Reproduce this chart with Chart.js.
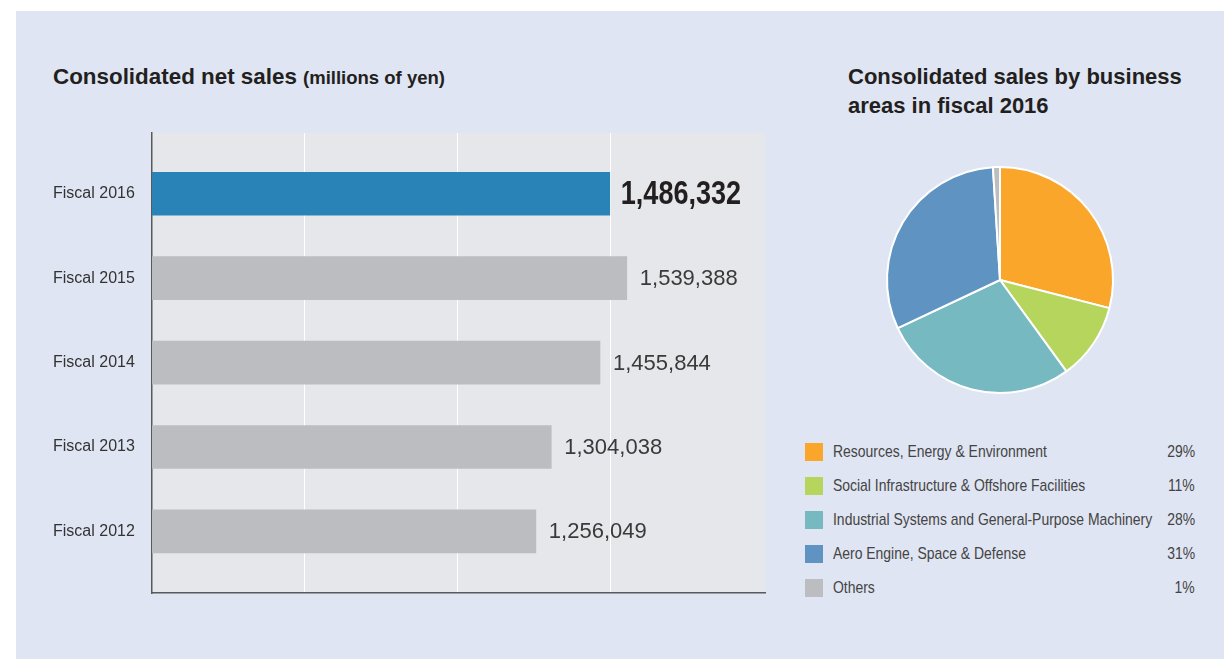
<!DOCTYPE html>
<html>
<head>
<meta charset="utf-8">
<script src="https://cdn.jsdelivr.net/npm/chart.js@4"></script>
<style>
  body { margin: 0; width: 1224px; height: 659px; background: #fff; overflow: hidden; position: relative;
         font-family: "Liberation Sans", Arial, sans-serif; color: #231f20; }
  #panel { position: absolute; left: 16px; top: 11px; width: 1208px; height: 648px; background: #dfe5f2; }
  #bars { position: absolute; left: 0; top: 0; }
  #pie { position: absolute; left: 880px; top: 160px; }
  .title { position: absolute; font-weight: bold; font-size: 22px; line-height: 29px; }
  .title.left { font-size: 22.4px; }
  .title small { font-size: 18.5px; }
  #legend { position: absolute; left: 805px; top: 435px; width: 390px; font-size: 17px; color: #444; }
  .row { position: relative; height: 34px; line-height: 34px; }
  .sw { position: absolute; left: 0; top: 8px; width: 18px; height: 18px; }
  .lab { position: absolute; left: 28px; white-space: nowrap; transform: scaleX(0.82); transform-origin: 0 50%; }
  .pct { position: absolute; right: 0; white-space: nowrap; transform: scaleX(0.82); transform-origin: 100% 50%; }
</style>
</head>
<body>
<div id="panel"></div>
<div class="title left" style="left:53px;top:62px;">Consolidated net sales <small>(millions of yen)</small></div>
<div class="title" style="left:848px;top:62px;">Consolidated sales by business<br>areas in fiscal 2016</div>
<canvas id="bars" width="780" height="659"></canvas>
<canvas id="pie" width="240" height="240"></canvas>
<div id="legend"></div>
<script>
const categories = ['Fiscal 2016', 'Fiscal 2015', 'Fiscal 2014', 'Fiscal 2013', 'Fiscal 2012']
const netSales = [1486332, 1539388, 1455844, 1304038, 1256049]
const gridTicks = [536000, 1012000, 1488000]

const segments = [
  'Resources, Energy & Environment',
  'Social Infrastructure & Offshore Facilities',
  'Industrial Systems and General-Purpose Machinery',
  'Aero Engine, Space & Defense',
  'Others',
]
const segmentShares = [29, 11, 28, 31, 1]
const segmentColors = ['#f9a62b', '#b6d55c', '#77b9c1', '#5e93c2', '#bcbdc1']

const plotBackground = {
  id: 'plotBackground',
  beforeDraw(chart) {
    const { ctx, chartArea: a } = chart
    ctx.save()
    ctx.fillStyle = '#e6e7ea'
    ctx.fillRect(a.left, a.top, a.right - a.left, a.bottom - a.top)
    ctx.restore()
  },
}

// value text at the end of each bar; the latest year is bold and condensed
const valueLabels = {
  id: 'valueLabels',
  afterDatasetsDraw(chart) {
    const { ctx } = chart
    const meta = chart.getDatasetMeta(0)
    ctx.save()
    ctx.textBaseline = 'middle'
    ctx.textAlign = 'left'
    meta.data.forEach((bar, i) => {
      const text = netSales[i].toLocaleString('en-US')
      if (i === 0) {
        ctx.save()
        ctx.font = 'bold 33px "Liberation Sans", Arial'
        ctx.fillStyle = '#231f20'
        ctx.translate(bar.x + 11, bar.y + 1)
        ctx.scale(0.82, 1)
        ctx.fillText(text, 0, 0)
        ctx.restore()
      } else {
        ctx.font = '22px "Liberation Sans", Arial'
        ctx.fillStyle = '#3a3a3a'
        ctx.fillText(text, bar.x + 13, bar.y + 1)
      }
    })
    ctx.restore()
  },
}

new Chart(document.getElementById('bars'), {
  type: 'bar',
  data: {
    datasets: [{
      data: netSales.map((v, i) => ({ x: v, y: i })),
      backgroundColor: netSales.map((v, i) => i === 0 ? '#2a83b7' : '#bcbdc1'),
      barThickness: 43,
      borderWidth: 0,
    }],
  },
  options: {
    indexAxis: 'y',
    responsive: false,
    animation: false,
    layout: { padding: { left: 53, top: 133, right: 15, bottom: 66 } },
    plugins: { legend: { display: false }, tooltip: { enabled: false } },
    scales: {
      x: {
        type: 'linear',
        min: 60000,
        max: 1970000,
        afterBuildTicks: scale => { scale.ticks = gridTicks.map(v => ({ value: v })) },
        afterFit: scale => { scale.height = 0 },
        ticks: { display: false },
        grid: { color: '#ffffff', lineWidth: 1, drawTicks: false },
        border: { color: '#58595b', width: 1.5 },
      },
      y: {
        type: 'linear',
        reverse: true,
        offset: false,
        min: -0.72,
        max: 4.73,
        afterBuildTicks: scale => { scale.ticks = categories.map((c, i) => ({ value: i })) },
        afterFit: scale => { scale.width = 99 },
        ticks: {
          crossAlign: 'far',
          color: '#333',
          font: { family: '"Liberation Sans", Arial', size: 16 },
          callback: v => categories[v],
        },
        grid: { display: false, offset: false },
        border: { color: '#58595b', width: 1.5 },
      },
    },
  },
  plugins: [plotBackground, valueLabels],
})

new Chart(document.getElementById('pie'), {
  type: 'pie',
  data: {
    labels: segments,
    datasets: [{
      data: segmentShares,
      backgroundColor: segmentColors,
      borderColor: '#ffffff',
      borderWidth: 2,
    }],
  },
  options: {
    responsive: false,
    animation: false,
    layout: { padding: 6 },
    plugins: { legend: { display: false }, tooltip: { enabled: false } },
  },
})

const legend = document.getElementById('legend')
segments.forEach((name, i) => {
  const row = document.createElement('div')
  row.className = 'row'
  row.innerHTML = '<span class="sw" style="background:' + segmentColors[i] + '"></span>' +
    '<span class="lab">' + name.replace('&', '&amp;') + '</span>' +
    '<span class="pct">' + segmentShares[i] + '%</span>'
  legend.appendChild(row)
})
</script>
</body>
</html>
